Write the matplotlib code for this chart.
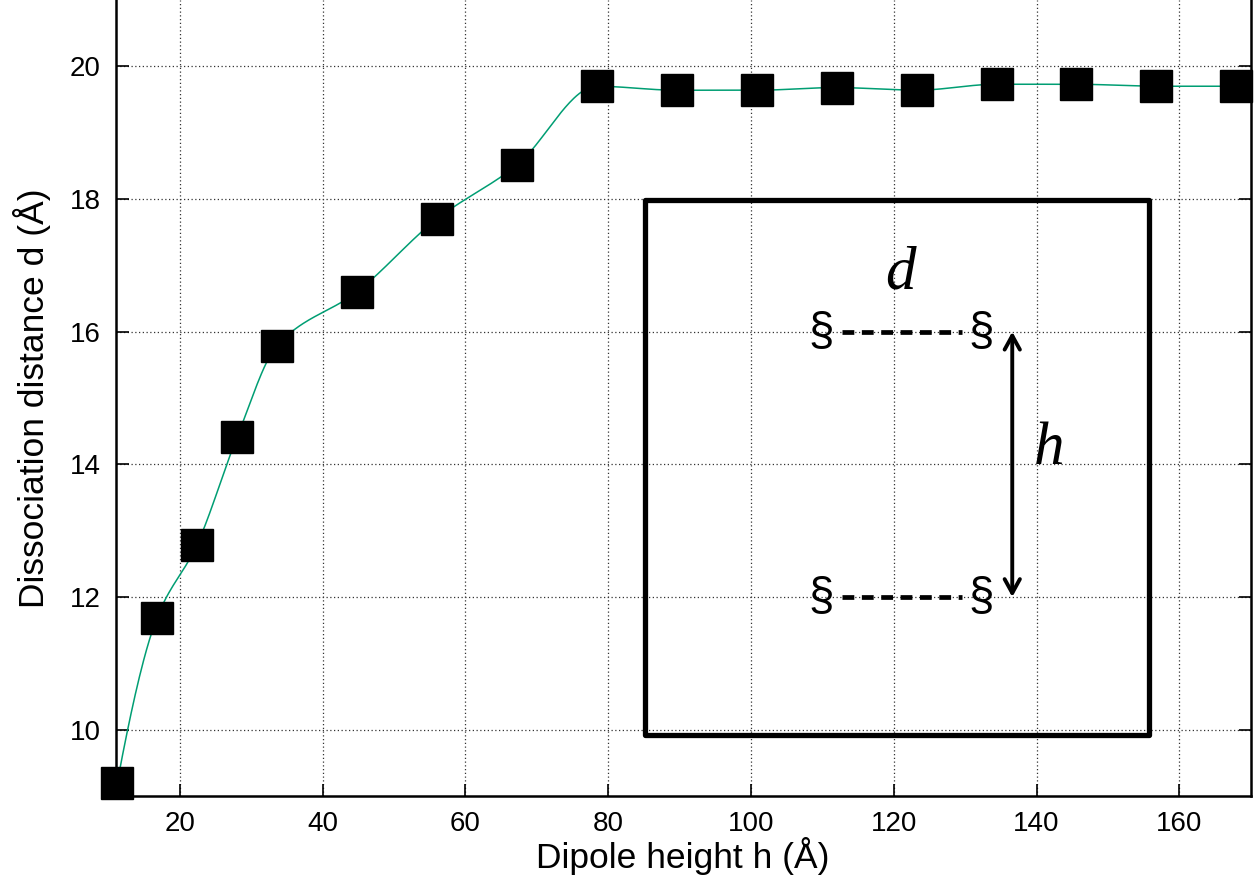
import numpy as np
import matplotlib
matplotlib.use("Agg")
import matplotlib.pyplot as plt
from matplotlib.patches import Rectangle

# dipole height h (A) and dissociation distance d (A)
height = [11.2, 16.8, 22.4, 28.0, 33.6, 44.8, 56.0, 67.2, 78.4, 89.6,
          100.8, 112.0, 123.2, 134.4, 145.6, 156.8, 168.0]
dist = [9.19, 11.69, 12.79, 14.41, 15.79, 16.60, 17.70, 18.51, 19.70, 19.64,
        19.64, 19.68, 19.64, 19.73, 19.73, 19.70, 19.70]

xticks = [20, 40, 60, 80, 100, 120, 140, 160]
yticks = [10, 12, 14, 16, 18, 20]


def pchip(x, y, n=800):
    # monotone cubic (Fritsch-Carlson) through the points, no overshoot
    x = np.asarray(x, float)
    y = np.asarray(y, float)
    h = np.diff(x)
    delta = np.diff(y) / h
    k = len(x)
    m = np.zeros(k)
    for i in range(1, k - 1):
        if delta[i - 1] * delta[i] > 0:
            w1 = 2 * h[i] + h[i - 1]
            w2 = h[i] + 2 * h[i - 1]
            m[i] = (w1 + w2) / (w1 / delta[i - 1] + w2 / delta[i])
    m[0] = ((2 * h[0] + h[1]) * delta[0] - h[0] * delta[1]) / (h[0] + h[1])
    if np.sign(m[0]) != np.sign(delta[0]):
        m[0] = 0
    m[-1] = ((2 * h[-1] + h[-2]) * delta[-1] - h[-1] * delta[-2]) / (h[-1] + h[-2])
    if np.sign(m[-1]) != np.sign(delta[-1]):
        m[-1] = 0
    xs = np.linspace(x[0], x[-1], n)
    idx = np.clip(np.searchsorted(x, xs) - 1, 0, k - 2)
    t = (xs - x[idx]) / h[idx]
    h00 = 2 * t**3 - 3 * t**2 + 1
    h10 = t**3 - 2 * t**2 + t
    h01 = -2 * t**3 + 3 * t**2
    h11 = t**3 - t**2
    ys = h00 * y[idx] + h10 * h[idx] * m[idx] + h01 * y[idx + 1] + h11 * h[idx] * m[idx + 1]
    return xs, ys


plt.rcParams['font.family'] = ['Liberation Sans', 'DejaVu Sans']

fig = plt.figure(figsize=(12.6, 8.84), dpi=100)
ax = fig.add_axes([0.0918, 0.0995, 0.9008, 0.9005])

xs, ys = pchip(height, dist)
ax.plot(xs, ys, color='#009e73', lw=1.1, zorder=3)
ax.plot(height, dist, ls='none', marker='s', ms=22.5, color='black', zorder=4,
        clip_on=False)

ax.set_xlim(11, 170)
ax.set_ylim(9, 21)
ax.set_xticks(xticks)
ax.set_yticks(yticks)
ax.grid(True, color='#333333', ls=(0, (1, 2)), lw=0.9)
ax.tick_params(direction='in', length=9, width=1.2, labelsize=20, pad=11,
               right=True, top=False)
for side in ['left', 'bottom', 'right']:
    ax.spines[side].set_linewidth(1.8)
ax.spines['top'].set_visible(False)

ax.set_xlabel('Dipole height h (Å)', fontsize=25.5, labelpad=0)
ax.set_ylabel('Dissociation distance d (Å)', fontsize=25.5, labelpad=13)

# inset sketch of the two dipoles
ax.add_patch(Rectangle((85.1, 9.92), 70.6, 8.06, fill=False, lw=3.8,
                       ec='black', zorder=5, joinstyle='round'))
for yy in [16.0, 12.0]:
    ax.text(109.9, yy, '§', fontsize=33, ha='center', va='center', zorder=6)
    ax.text(132.3, yy, '§', fontsize=33, ha='center', va='center', zorder=6)
    ax.plot([112.7, 129.6], [yy, yy], color='black', lw=3.4, ls=(0, (2.5, 1.6)),
            dash_capstyle='butt', zorder=6)
ax.annotate('', xy=(136.6, 16.0), xytext=(136.6, 12.0),
            arrowprops=dict(arrowstyle='<->,head_length=1.0,head_width=0.55',
                            lw=2.8, color='black', shrinkA=0, shrinkB=0), zorder=6)
ax.text(120.9, 16.87, 'd', fontsize=44, style='italic', family='Liberation Serif',
        ha='center', va='center', zorder=6)
ax.text(141.7, 14.23, 'h', fontsize=44, style='italic', family='Liberation Serif',
        ha='center', va='center', zorder=6)

fig.savefig('out.png', dpi=100)
